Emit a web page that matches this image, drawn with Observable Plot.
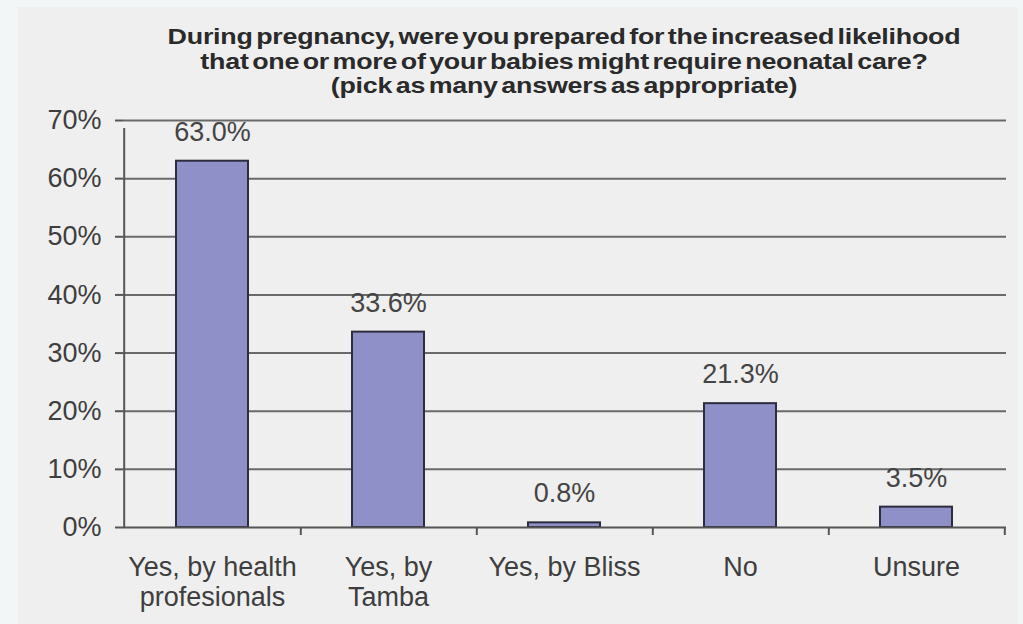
<!DOCTYPE html>
<html>
<head>
<meta charset="utf-8">
<script src="https://cdn.jsdelivr.net/npm/d3@7"></script>
<script src="https://cdn.jsdelivr.net/npm/@observablehq/plot@0.6"></script>
<style>
  html, body { margin: 0; padding: 0; background: #f2f6f6; }
  #wrap { position: relative; width: 1023px; height: 624px; overflow: hidden; }
  #panel { position: absolute; left: 18px; top: 7px; width: 1000px; height: 630px; background: #efefef; }
  #title { position: absolute; left: 0; top: 25px; width: 1128px; text-align: center;
    font-family: "Liberation Sans", Arial, sans-serif; font-weight: bold; font-size: 22px;
    line-height: 24.5px; color: #2a2a2a; letter-spacing: -0.2px; word-spacing: -3px;
    transform: scaleX(1.22); transform-origin: 564px 0; }
  #chart { position: absolute; left: 0; top: 105px; }
</style>
</head>
<body>
<div id="wrap">
  <div id="panel"></div>
  <div id="title">During pregnancy, were you prepared for the increased likelihood<br>that one or more of your babies might require neonatal care?<br>(pick as many answers as appropriate)</div>
  <div id="chart"></div>
</div>
<script>
const categories = ["Yes, by health\nprofesionals", "Yes, by\nTamba", "Yes, by Bliss", "No", "Unsure"];
const values = [63.0, 33.6, 0.8, 21.3, 3.5];
const valueLabels = ["63.0%", "33.6%", "0.8%", "21.3%", "3.5%"];
const yTicks = [0, 10, 20, 30, 40, 50, 60, 70];

const data = categories.map((c, i) => ({cat: c, value: values[i], label: valueLabels[i]}));

const width = 1023, height = 519;
const marginLeft = 123, marginRight = 17, marginTop = 15, marginBottom = 97;
const step = (width - marginLeft - marginRight) / categories.length;
const textColor = "#3e3e3e";

const plot = Plot.plot({
  width, height, marginLeft, marginRight, marginTop, marginBottom,
  style: {background: "transparent", fontFamily: "Liberation Sans, Arial, sans-serif", color: textColor},
  x: {domain: categories, paddingInner: 0.59, paddingOuter: 0.295, label: null},
  y: {domain: [0, 70], label: null},
  marks: [
    Plot.ruleY(yTicks.filter(d => d > 0), {stroke: "#6a6a6a", strokeWidth: 2, strokeOpacity: 1}),
    Plot.axisY({ticks: yTicks, tickFormat: d => d + "%", tickSize: 8, tickPadding: 14, fontSize: 27, stroke: "#555", strokeWidth: 2, label: null, color: textColor}),
    Plot.barY(data, {x: "cat", y: "value", fill: "#9090c8", stroke: "#2c2c3c", strokeWidth: 2}),
    Plot.ruleY([0], {stroke: "#555", strokeWidth: 2}),
    Plot.ruleX([categories[0]], {y1: 0, y2: 70, dx: -step / 2, stroke: "#555", strokeWidth: 2, insetBottom: -8}),
    Plot.ruleX(categories, {y1: 0, y2: 0, dx: step / 2, stroke: "#555", strokeWidth: 2, insetBottom: -8}),
    Plot.axisX({tickSize: 0, tickPadding: 27, fontSize: 27, lineHeight: 1.12, label: null, color: textColor}),
    Plot.text(data, {x: "cat", y: "value", text: "label", dy: -29, fontSize: 27, fill: "#444"})
  ]
});
document.getElementById("chart").appendChild(plot);
</script>
</body>
</html>
